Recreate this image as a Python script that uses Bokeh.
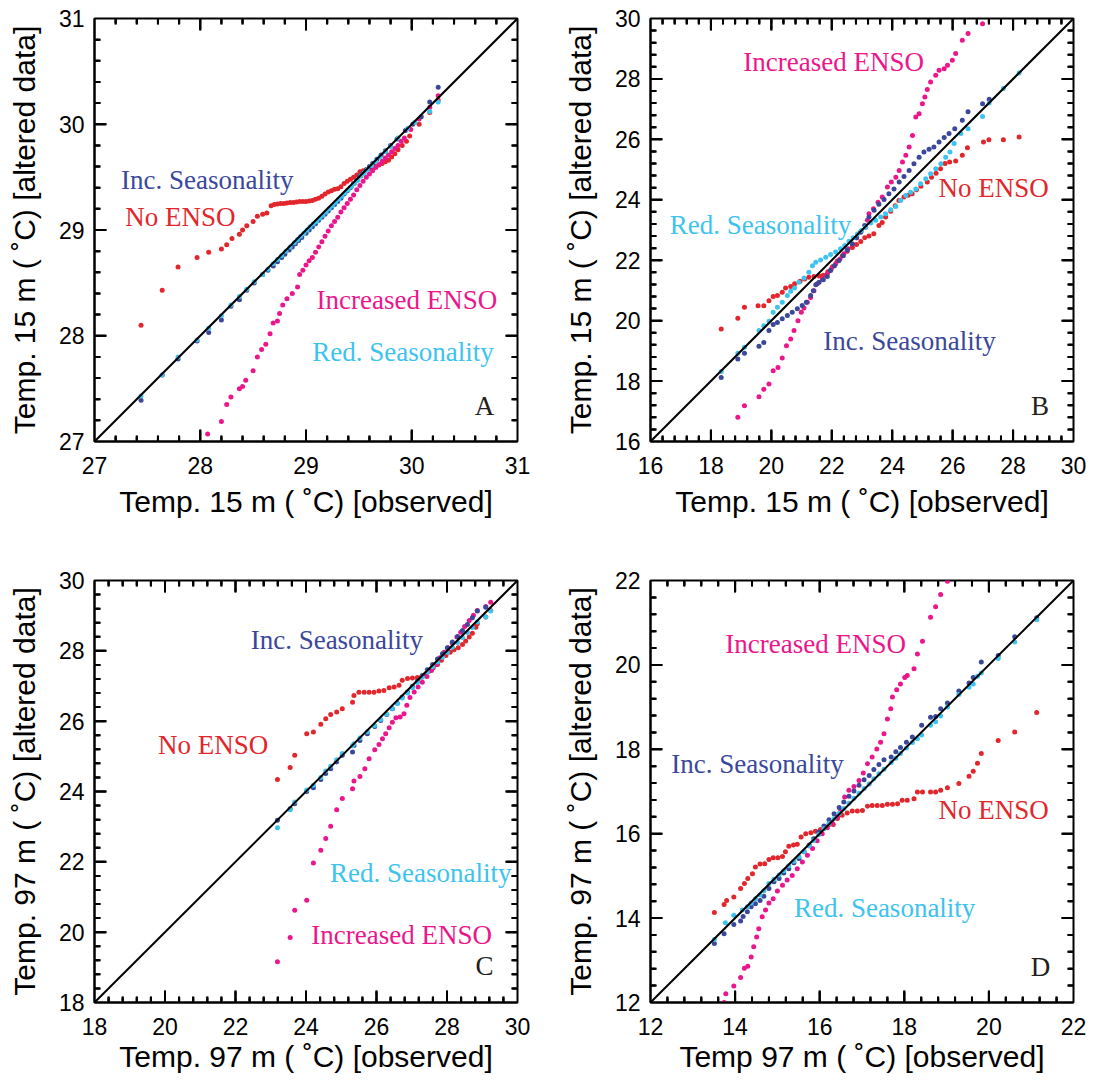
from bokeh.plotting import figure
from bokeh.models import Range1d, SingleIntervalTicker, Slope, Label
from bokeh.layouts import column, row
from bokeh.embed import file_html
from bokeh.resources import INLINE

# ---------------- data ----------------
# Panel A : 15 m, range 27-31
A_NOENSO_X = [27.44, 27.64, 27.79, 27.97, 28.08, 28.20, 28.25, 28.30, 28.37, 28.40, 28.44, 28.50, 28.54, 28.59, 28.63,
              28.67, 28.70, 28.73, 28.76, 28.79, 28.82, 28.85, 28.88, 28.91, 28.94, 28.97, 29.00, 29.03, 29.06, 29.09,
              29.12, 29.15, 29.18, 29.21, 29.24, 29.27, 29.30, 29.33, 29.36, 29.39, 29.42, 29.45, 29.48, 29.51, 29.54,
              29.57, 29.60, 29.63, 29.66, 29.69, 29.72, 29.75, 29.78, 29.81, 29.84, 29.87, 29.91, 29.95, 29.98, 30.07,
              30.17, 30.25]
A_NOENSO_Y = [28.10, 28.43, 28.65, 28.74, 28.79, 28.82, 28.86, 28.92, 28.96, 29.00, 29.04, 29.08, 29.13, 29.15, 29.16,
              29.23, 29.24, 29.245, 29.25, 29.25, 29.255, 29.26, 29.26, 29.265, 29.27, 29.27, 29.27, 29.275, 29.28, 29.29,
              29.30, 29.32, 29.34, 29.36, 29.37, 29.385, 29.39, 29.41, 29.44, 29.46, 29.48, 29.50, 29.52, 29.55, 29.56,
              29.57, 29.58, 29.59, 29.60, 29.615, 29.63, 29.645, 29.66, 29.69, 29.72, 29.76, 29.80, 29.84, 29.89, 30.00,
              30.11, 30.23]
A_INCENSO_X = [28.07, 28.20, 28.25, 28.29, 28.37, 28.40, 28.43, 28.50, 28.54, 28.58, 28.62, 28.66, 28.69, 28.73, 28.75,
               28.78, 28.82, 28.87, 28.92, 28.94, 28.97, 29.00, 29.03, 29.06, 29.09, 29.12, 29.15, 29.18, 29.21, 29.24,
               29.27, 29.30, 29.33, 29.36, 29.39, 29.42, 29.45, 29.48, 29.51, 29.54, 29.57, 29.60, 29.63, 29.66, 29.69,
               29.72, 29.75, 29.78, 29.81, 29.84, 29.87, 29.90, 29.93, 29.99, 30.07, 30.17, 30.25]
A_INCENSO_Y = [27.07, 27.19, 27.35, 27.42, 27.50, 27.52, 27.58, 27.67, 27.80, 27.87, 27.92, 28.02, 28.12, 28.14, 28.21,
               28.29, 28.35, 28.40, 28.46, 28.58, 28.62, 28.67, 28.71, 28.74, 28.79, 28.84, 28.89, 28.94, 28.99, 29.04,
               29.08, 29.12, 29.17, 29.21, 29.25, 29.29, 29.33, 29.38, 29.42, 29.46, 29.50, 29.53, 29.56, 29.59, 29.62,
               29.65, 29.68, 29.71, 29.74, 29.77, 29.80, 29.84, 29.87, 29.95, 30.05, 30.16, 30.27]
A_INCSEAS_X = [27.44, 27.64, 27.79, 27.97, 28.08, 28.20, 28.29, 28.37, 28.44, 28.51, 28.59, 28.64, 28.69, 28.73, 28.77,
               28.80, 28.84, 28.87, 28.90, 28.93, 28.96, 29.00, 29.03, 29.06, 29.09, 29.12, 29.15, 29.18, 29.21, 29.24,
               29.27, 29.30, 29.33, 29.36, 29.39, 29.42, 29.45, 29.48, 29.51, 29.54, 29.57, 29.60, 29.63, 29.67, 29.71,
               29.75, 29.80, 29.86, 29.94, 30.01, 30.09, 30.17, 30.25]
A_INCSEAS_Y = [27.39, 27.63, 27.78, 27.95, 28.03, 28.15, 28.28, 28.34, 28.43, 28.50, 28.58, 28.62, 28.66, 28.70, 28.74,
               28.77, 28.81, 28.84, 28.87, 28.90, 28.93, 28.97, 29.00, 29.03, 29.06, 29.09, 29.12, 29.15, 29.18, 29.21,
               29.24, 29.27, 29.30, 29.34, 29.37, 29.40, 29.44, 29.47, 29.51, 29.54, 29.57, 29.60, 29.63, 29.67, 29.71,
               29.75, 29.80, 29.86, 29.94, 30.00, 30.07, 30.21, 30.35]
A_REDSEAS_X = [27.44, 27.64, 27.79, 27.97, 28.08, 28.20, 28.29, 28.37, 28.44, 28.51, 28.59, 28.64, 28.69, 28.73, 28.77,
               28.81, 28.85, 28.89, 28.92, 28.95, 28.98, 29.01, 29.04, 29.07, 29.10, 29.13, 29.16, 29.19, 29.22, 29.25,
               29.28, 29.31, 29.34, 29.37, 29.40, 29.43, 29.46, 29.49, 29.52, 29.55, 29.58, 29.62, 29.66, 29.70, 29.75,
               29.80, 29.87, 29.96, 30.03, 30.17, 30.25]
A_REDSEAS_Y = [27.43, 27.63, 27.80, 27.96, 28.07, 28.19, 28.29, 28.37, 28.44, 28.51, 28.58, 28.63, 28.68, 28.72, 28.76,
               28.80, 28.84, 28.88, 28.91, 28.94, 28.97, 29.00, 29.03, 29.06, 29.08, 29.11, 29.14, 29.17, 29.20, 29.23,
               29.26, 29.29, 29.32, 29.35, 29.38, 29.41, 29.44, 29.47, 29.51, 29.54, 29.57, 29.61, 29.65, 29.69, 29.74,
               29.79, 29.87, 29.96, 30.02, 30.12, 30.21]

# Panel B : 15 m, range 16-30
B_NOENSO_X = [18.34, 18.89, 19.11, 19.56, 19.75, 19.92, 20.06, 20.20, 20.36, 20.47, 20.64, 20.77, 20.95, 21.10, 21.24,
              21.41, 21.58, 21.72, 21.87, 22.02, 22.18, 22.35, 22.51, 22.68, 22.82, 22.96, 23.09, 23.23, 23.39, 23.56,
              23.67, 23.78, 23.95, 24.10, 24.22, 24.39, 24.53, 24.66, 24.80, 24.95, 25.16, 25.30, 25.45, 25.60, 25.75,
              25.90, 26.10, 26.32, 26.49, 27.02, 27.20, 27.68, 28.20]
B_NOENSO_Y = [19.72, 20.08, 20.44, 20.49, 20.49, 20.66, 20.80, 20.83, 20.94, 21.08, 21.13, 21.22, 21.30, 21.38, 21.44,
              21.46, 21.48, 21.50, 21.62, 21.78, 21.97, 22.15, 22.30, 22.42, 22.52, 22.62, 22.74, 22.80, 22.88, 23.15,
              23.25, 23.43, 23.62, 23.80, 23.98, 24.09, 24.15, 24.20, 24.33, 24.45, 24.59, 24.75, 24.88, 25.03, 25.20,
              25.25, 25.28, 25.47, 25.72, 25.91, 25.99, 25.99, 26.08]
B_INCENSO_X = [18.89, 19.11, 19.59, 19.75, 19.92, 20.06, 20.22, 20.36, 20.50, 20.64, 20.75, 20.88, 20.99, 21.08, 21.19,
               21.30, 21.41, 21.52, 21.69, 21.85, 21.98, 22.13, 22.27, 22.40, 22.54, 22.68, 22.82, 22.96, 23.12, 23.18,
               23.23, 23.38, 23.53, 23.67, 23.84, 23.97, 24.12, 24.23, 24.34, 24.45, 24.56, 24.67, 24.78, 24.89, 25.00,
               25.08, 25.16, 25.27, 25.44, 25.55, 25.72, 25.83, 25.99, 26.10, 26.32, 26.51, 26.99]
B_INCENSO_Y = [16.80, 17.18, 17.48, 17.73, 17.90, 18.34, 18.45, 18.76, 19.17, 19.39, 19.67, 20.00, 20.28, 20.42, 20.61,
               20.77, 20.99, 21.22, 21.38, 21.55, 21.71, 21.88, 22.04, 22.21, 22.38, 22.54, 22.74, 22.93, 23.09, 23.32,
               23.54, 23.70, 23.92, 24.09, 24.42, 24.59, 24.75, 24.97, 25.25, 25.47, 25.75, 26.13, 26.74, 26.85, 27.18,
               27.40, 27.65, 27.90, 28.12, 28.29, 28.34, 28.45, 28.62, 28.84, 29.28, 29.50, 29.83]
B_INCSEAS_X = [18.34, 18.89, 19.11, 19.59, 19.75, 19.92, 20.06, 20.20, 20.36, 20.53, 20.69, 20.86, 21.02, 21.16, 21.30,
               21.39, 21.47, 21.58, 21.72, 21.85, 21.96, 22.09, 22.24, 22.38, 22.51, 22.68, 22.82, 22.96, 23.09, 23.23,
               23.40, 23.56, 23.73, 23.89, 24.06, 24.23, 24.39, 24.56, 24.72, 24.89, 25.05, 25.22, 25.38, 25.55, 25.72,
               25.88, 26.07, 26.32, 26.51, 26.99, 27.21]
B_INCSEAS_Y = [18.12, 18.73, 18.92, 19.15, 19.28, 19.67, 19.87, 19.94, 20.06, 20.17, 20.28, 20.39, 20.50, 20.61, 20.83,
               20.99, 21.19, 21.27, 21.35, 21.46, 21.66, 21.82, 21.99, 22.15, 22.34, 22.54, 22.74, 22.93, 23.15, 23.43,
               23.65, 23.85, 24.01, 24.20, 24.36, 24.59, 24.77, 24.97, 25.19, 25.41, 25.58, 25.67, 25.75, 25.91, 26.06,
               26.19, 26.35, 26.63, 26.91, 27.18, 27.33]
B_REDSEAS_X = [18.34, 18.89, 19.11, 19.59, 19.75, 19.92, 20.06, 20.20, 20.36, 20.53, 20.64, 20.77, 20.91, 21.08, 21.24,
               21.36, 21.47, 21.63, 21.80, 21.96, 22.13, 22.29, 22.43, 22.57, 22.71, 22.85, 22.98, 23.12, 23.29, 23.45,
               23.62, 23.78, 23.95, 24.12, 24.28, 24.45, 24.61, 24.78, 24.94, 25.11, 25.27, 25.44, 25.61, 25.77, 25.91,
               26.05, 26.27, 26.51, 26.99, 27.21, 27.68, 28.20]
B_REDSEAS_Y = [18.32, 18.92, 19.12, 19.67, 19.83, 19.98, 20.28, 20.44, 20.61, 20.83, 20.97, 21.08, 21.27, 21.41, 21.60,
               21.82, 21.93, 22.01, 22.10, 22.19, 22.27, 22.38, 22.49, 22.63, 22.74, 22.87, 22.98, 23.09, 23.23, 23.32,
               23.43, 23.54, 23.67, 23.78, 23.98, 24.14, 24.25, 24.36, 24.53, 24.70, 24.86, 25.03, 25.19, 25.41, 25.58,
               25.86, 26.19, 26.35, 26.76, 27.20, 27.68, 28.20]

# Panel C : 97 m, range 18-30
C_NOENSO_X = [23.19, 23.55, 23.68, 24.02, 24.21, 24.42, 24.56, 24.70, 24.87, 25.03, 25.32, 25.36, 25.50, 25.65, 25.79,
              25.93, 26.07, 26.21, 26.36, 26.50, 26.64, 26.73, 26.88, 27.02, 27.16, 27.27, 27.40, 27.49, 27.61, 27.73,
              27.84, 27.97, 28.09, 28.20, 28.32, 28.44, 28.53, 28.63, 28.72, 28.82, 28.86, 29.10, 29.24]
C_NOENSO_Y = [24.34, 24.68, 25.03, 25.64, 25.69, 25.91, 26.07, 26.19, 26.26, 26.35, 26.54, 26.73, 26.82, 26.82, 26.82,
              26.82, 26.86, 26.87, 26.95, 26.97, 27.02, 27.16, 27.21, 27.23, 27.24, 27.25, 27.35, 27.42, 27.52, 27.61,
              27.73, 27.87, 27.96, 28.03, 28.09, 28.18, 28.28, 28.39, 28.50, 28.67, 28.77, 28.96, 29.15]
C_INCENSO_X = [23.19, 23.55, 23.68, 24.02, 24.21, 24.42, 24.56, 24.70, 24.87, 25.03, 25.32, 25.36, 25.53, 25.67, 25.79,
               25.95, 26.07, 26.17, 26.26, 26.36, 26.45, 26.55, 26.67, 26.78, 26.86, 26.95, 27.07, 27.18, 27.30, 27.43,
               27.56, 27.68, 27.80, 27.92, 28.03, 28.15, 28.28, 28.39, 28.50, 28.63, 28.75, 28.86, 29.10, 29.24]
C_INCENSO_Y = [19.16, 19.85, 20.62, 20.91, 21.97, 22.33, 22.66, 23.01, 23.48, 23.80, 24.08, 24.30, 24.43, 24.65, 24.93,
               25.19, 25.34, 25.50, 25.64, 25.81, 25.97, 26.10, 26.12, 26.21, 26.45, 26.67, 26.83, 26.97, 27.11, 27.27,
               27.44, 27.61, 27.80, 27.96, 28.09, 28.22, 28.39, 28.53, 28.69, 28.86, 29.01, 29.15, 29.26, 29.38]
C_INCSEAS_X = [23.19, 23.55, 23.68, 24.02, 24.21, 24.42, 24.56, 24.70, 24.87, 25.03, 25.32, 25.36, 25.53, 25.74, 25.95,
               26.12, 26.29, 26.45, 26.59, 26.73, 26.88, 27.02, 27.16, 27.30, 27.44, 27.59, 27.73, 27.87, 28.01, 28.15,
               28.30, 28.44, 28.58, 28.72, 28.86, 29.10]
C_INCSEAS_Y = [23.18, 23.51, 23.65, 24.00, 24.11, 24.34, 24.51, 24.65, 24.84, 25.03, 25.12, 25.31, 25.45, 25.64, 25.85,
               26.02, 26.19, 26.35, 26.51, 26.69, 26.83, 26.99, 27.14, 27.30, 27.46, 27.61, 27.77, 27.92, 28.09, 28.25,
               28.41, 28.58, 28.75, 28.94, 29.13, 29.24]
C_REDSEAS_X = [23.19, 23.55, 23.68, 24.02, 24.21, 24.42, 24.56, 24.70, 24.87, 25.03, 25.32, 25.36, 25.53, 25.74, 25.95,
               26.12, 26.29, 26.45, 26.59, 26.73, 26.88, 27.02, 27.16, 27.30, 27.44, 27.59, 27.73, 27.87, 28.01, 28.15,
               28.30, 28.44, 28.58, 28.72, 28.86, 29.10, 29.24]
C_REDSEAS_Y = [22.97, 23.48, 23.70, 24.04, 24.18, 24.40, 24.58, 24.72, 24.90, 25.08, 25.30, 25.36, 25.52, 25.70, 25.88,
               26.05, 26.20, 26.36, 26.50, 26.66, 26.80, 26.95, 27.10, 27.25, 27.40, 27.55, 27.68, 27.82, 27.96, 28.10,
               28.24, 28.38, 28.52, 28.66, 28.82, 28.96, 29.13]

# Panel D : 97 m, range 12-22
D_NOENSO_X = [13.51, 13.74, 13.80, 13.97, 14.13, 14.22, 14.30, 14.41, 14.48, 14.59, 14.70, 14.80, 14.90, 15.01, 15.12,
              15.19, 15.27, 15.38, 15.47, 15.56, 15.67, 15.79, 15.90, 16.02, 16.12, 16.22, 16.32, 16.42, 16.53, 16.65,
              16.77, 16.89, 17.01, 17.13, 17.24, 17.36, 17.48, 17.60, 17.72, 17.84, 17.95, 18.07, 18.23, 18.31, 18.43,
              18.62, 18.74, 18.86, 19.02, 19.29, 19.53, 19.63, 19.73, 19.82, 20.22, 20.61, 21.13]
D_NOENSO_Y = [14.13, 14.32, 14.42, 14.50, 14.70, 14.82, 14.94, 15.05, 15.21, 15.28, 15.29, 15.39, 15.43, 15.43, 15.46,
              15.57, 15.70, 15.73, 15.75, 15.92, 16.00, 16.02, 16.06, 16.10, 16.16, 16.22, 16.22, 16.36, 16.44, 16.49,
              16.54, 16.54, 16.55, 16.65, 16.67, 16.67, 16.67, 16.70, 16.70, 16.71, 16.79, 16.79, 16.83, 16.99, 16.99,
              16.99, 16.99, 17.03, 17.09, 17.19, 17.36, 17.48, 17.67, 17.90, 18.21, 18.41, 18.87]
D_INCENSO_X = [13.74, 13.78, 13.97, 14.13, 14.22, 14.30, 14.38, 14.44, 14.51, 14.56, 14.64, 14.72, 14.80, 14.90, 15.00,
               15.12, 15.23, 15.35, 15.47, 15.59, 15.71, 15.83, 15.94, 16.06, 16.18, 16.30, 16.42, 16.50, 16.59, 16.69,
               16.81, 16.93, 17.03, 17.13, 17.24, 17.35, 17.44, 17.52, 17.60, 17.68, 17.72, 17.82, 17.91, 18.01, 18.07,
               18.23, 18.31, 18.43, 18.62, 18.74, 18.86, 19.02]
D_INCENSO_Y = [12.00, 12.21, 12.39, 12.59, 12.81, 12.86, 13.08, 13.32, 13.55, 13.75, 14.03, 14.19, 14.36, 14.46, 14.64,
               14.78, 14.90, 15.01, 15.17, 15.33, 15.49, 15.65, 15.83, 16.00, 16.14, 16.25, 16.40, 16.55, 16.87, 17.03,
               17.12, 17.26, 17.44, 17.66, 17.82, 18.01, 18.17, 18.37, 18.72, 18.96, 19.24, 19.41, 19.55, 19.70, 19.75,
               19.91, 20.26, 20.56, 21.13, 21.38, 21.67, 21.98]
D_INCSEAS_X = [13.51, 13.74, 13.97, 14.13, 14.19, 14.29, 14.38, 14.48, 14.59, 14.68, 14.80, 14.92, 15.04, 15.15, 15.27,
               15.39, 15.51, 15.63, 15.75, 15.86, 15.98, 16.10, 16.22, 16.34, 16.46, 16.57, 16.69, 16.81, 16.93, 17.05,
               17.17, 17.28, 17.40, 17.52, 17.69, 17.80, 17.91, 18.05, 18.19, 18.41, 18.62, 18.74, 18.86, 19.02, 19.29,
               19.53, 19.63, 19.82, 20.22, 20.61, 21.13]
D_INCSEAS_Y = [13.40, 13.63, 13.85, 13.93, 14.04, 14.15, 14.27, 14.34, 14.42, 14.52, 14.70, 14.86, 14.94, 15.07, 15.17,
               15.31, 15.41, 15.57, 15.73, 15.88, 16.04, 16.18, 16.33, 16.47, 16.62, 16.75, 16.89, 17.01, 17.15, 17.28,
               17.38, 17.52, 17.64, 17.75, 17.82, 17.94, 18.04, 18.17, 18.29, 18.57, 18.76, 18.78, 18.96, 19.10, 19.38,
               19.57, 19.70, 20.07, 20.22, 20.67, 21.12]
D_REDSEAS_X = [13.51, 13.77, 13.97, 14.17, 14.29, 14.38, 14.48, 14.59, 14.68, 14.80, 14.92, 15.04, 15.15, 15.27, 15.39,
               15.51, 15.63, 15.75, 15.86, 15.98, 16.10, 16.22, 16.34, 16.46, 16.57, 16.69, 16.81, 16.93, 17.05, 17.17,
               17.28, 17.40, 17.52, 17.69, 17.80, 17.91, 18.05, 18.19, 18.31, 18.41, 18.62, 18.74, 18.86, 19.02, 19.29,
               19.53, 19.63, 19.73, 19.82, 20.22, 20.61, 21.13]
D_REDSEAS_Y = [13.49, 13.89, 14.07, 14.19, 14.27, 14.36, 14.46, 14.55, 14.65, 14.82, 14.92, 15.02, 15.12, 15.24, 15.35,
               15.46, 15.58, 15.71, 15.84, 15.98, 16.12, 16.24, 16.36, 16.48, 16.60, 16.72, 16.84, 16.96, 17.07, 17.18,
               17.30, 17.42, 17.53, 17.69, 17.79, 17.90, 18.03, 18.16, 18.25, 18.34, 18.57, 18.65, 18.79, 19.00, 19.30,
               19.47, 19.55, 19.73, 19.81, 20.15, 20.54, 21.07]

# axis ranges and tick steps
A_RANGE, A_STEP = (27, 31), 1
B_RANGE, B_STEP = (16, 30), 2
C_RANGE, C_STEP = (18, 30), 2
D_RANGE, D_STEP = (12, 22), 2

XLAB_15 = "Temp. 15 m ( \u02daC) [observed]"
YLAB_15 = "Temp. 15 m ( \u02daC) [altered data]"
XLAB_C = "Temp. 97 m ( \u02daC) [observed]"
XLAB_D = "Temp 97 m ( \u02daC) [observed]"
YLAB_97 = "Temp. 97 m ( \u02daC) [altered data]"

# ---------------- styling ----------------
RED = "#e2262b"
PINK = "#ec168c"
BLUE = "#3a479b"
CYAN = "#3cc3ef"
SANS = "Liberation Sans"
SERIF = "Liberation Serif"
FRAME_PX = 423.0  # frame size in pixels (square panels)


def add_inner_ticks(p, lo, hi, step):
    # tick marks on all four frame edges pointing into the frame
    lo = float(lo)
    hi = float(hi)
    sub = step / 5.0
    n_minor = int(round((hi - lo) / sub))
    unit = (hi - lo) / FRAME_PX  # data units per pixel
    seg = dict(x0=[], y0=[], x1=[], y1=[])
    sq_x, sq_y = [], []
    for i in range(1, n_minor):
        v = round(lo + i * sub, 6)
        is_major = (i % 5 == 0)
        length_px = 12.0 if is_major else 6.0
        a = 0.5 * unit
        L = length_px * unit
        seg["x0"] += [v, v, lo + a, hi - a]
        seg["y0"] += [lo + a, hi - a, v, v]
        seg["x1"] += [v, v, lo + L, hi - L]
        seg["y1"] += [lo + L, hi - L, v, v]
        d = 1.2
        while d <= length_px - 0.8:
            off = d * unit
            sq_x += [v, v, lo + off, hi - off]
            sq_y += [lo + off, hi - off, v, v]
            d += 1.2
    p.segment(x0=seg["x0"], y0=seg["y0"], x1=seg["x1"], y1=seg["y1"],
              line_color="black", line_width=2)
    p.scatter(sq_x, sq_y, marker="square", size=2, fill_color="black", line_color=None)


def make_panel(rng, step, xlab, ylab, series, notes, letter, w, h, bl, br, bt, bb, xlab_standoff):
    lo, hi = rng
    p = figure(width=w, height=h, x_range=Range1d(lo, hi), y_range=Range1d(lo, hi),
               output_backend="svg", toolbar_location=None,
               min_border_left=bl, min_border_right=br, min_border_top=bt, min_border_bottom=bb,
               background_fill_color="white", border_fill_color="white")
    p.grid.visible = False
    p.outline_line_color = "black"
    p.outline_line_width = 2

    xa = p.xaxis[0]
    ya = p.yaxis[0]
    for ax in (xa, ya):
        ax.ticker = SingleIntervalTicker(interval=step, num_minor_ticks=5)
        ax.major_tick_in = 0
        ax.major_tick_out = 0
        ax.minor_tick_in = 0
        ax.minor_tick_out = 0
        ax.axis_line_width = 2
        ax.axis_line_color = "black"
        ax.major_label_text_font = SANS
        ax.major_label_text_font_size = "23px"
        ax.major_label_text_color = "black"
        ax.axis_label_text_font = SANS
        ax.axis_label_text_font_size = "30px"
        ax.axis_label_text_font_style = "normal"
        ax.axis_label_text_color = "black"
    xa.axis_label = xlab
    ya.axis_label = ylab
    xa.major_label_standoff = 15
    xa.axis_label_standoff = xlab_standoff
    ya.major_label_standoff = 10
    ya.axis_label_standoff = 15

    add_inner_ticks(p, lo, hi, step)

    for xs, ys, color in series:
        n = min(len(xs), len(ys))
        p.scatter(list(xs[:n]), list(ys[:n]), size=5, fill_color=color, line_color=None)

    p.add_layout(Slope(gradient=1, y_intercept=0, line_color="black", line_width=2))

    for text, x, y, color in notes:
        p.add_layout(Label(x=x, y=y, text=text, text_color=color, text_font=SERIF,
                           text_font_size="27px", text_baseline="middle", text_align="left"))
    ltxt, lx, ly = letter
    p.add_layout(Label(x=lx, y=ly, text=ltxt, text_color="#231f20", text_font=SERIF,
                       text_font_size="27px", text_baseline="middle", text_align="right"))
    return p


pA = make_panel(A_RANGE, A_STEP, XLAB_15, YLAB_15,
                [(A_NOENSO_X, A_NOENSO_Y, RED), (A_INCENSO_X, A_INCENSO_Y, PINK),
                 (A_INCSEAS_X, A_INCSEAS_Y, BLUE), (A_REDSEAS_X, A_REDSEAS_Y, CYAN)],
                [("Inc. Seasonality", 27.25, 29.47, BLUE), ("No ENSO", 27.29, 29.12, RED),
                 ("Increased ENSO", 29.10, 28.34, PINK), ("Red. Seasonality", 29.06, 27.85, CYAN)],
                ("A", 30.78, 27.34), 546, 540, 94, 29, 18, 99, 8)

pB = make_panel(B_RANGE, B_STEP, XLAB_15, YLAB_15,
                [(B_NOENSO_X, B_NOENSO_Y, RED), (B_INCENSO_X, B_INCENSO_Y, PINK),
                 (B_INCSEAS_X, B_INCSEAS_Y, BLUE), (B_REDSEAS_X, B_REDSEAS_Y, CYAN)],
                [("Increased ENSO", 19.07, 28.56, PINK), ("No ENSO", 25.53, 24.40, RED),
                 ("Red. Seasonality", 16.64, 23.15, CYAN), ("Inc. Seasonality", 21.72, 19.34, BLUE)],
                ("B", 29.19, 17.18), 546, 540, 104, 19, 18, 99, 8)

pC = make_panel(C_RANGE, C_STEP, XLAB_C, YLAB_97,
                [(C_NOENSO_X, C_NOENSO_Y, RED), (C_INCENSO_X, C_INCENSO_Y, PINK),
                 (C_INCSEAS_X, C_INCSEAS_Y, BLUE), (C_REDSEAS_X, C_REDSEAS_Y, CYAN)],
                [("Inc. Seasonality", 22.43, 28.30, BLUE), ("No ENSO", 19.80, 25.31, RED),
                 ("Red. Seasonality", 24.68, 21.67, CYAN), ("Increased ENSO", 24.15, 19.91, PINK)],
                ("C", 29.32, 19.03), 546, 538, 94, 29, 40, 76, 2)

pD = make_panel(D_RANGE, D_STEP, XLAB_D, YLAB_97,
                [(D_NOENSO_X, D_NOENSO_Y, RED), (D_INCENSO_X, D_INCENSO_Y, PINK),
                 (D_INCSEAS_X, D_INCSEAS_Y, BLUE), (D_REDSEAS_X, D_REDSEAS_Y, CYAN)],
                [("Increased ENSO", 13.77, 20.50, PINK), ("Inc. Seasonality", 12.49, 17.64, BLUE),
                 ("No ENSO", 18.81, 16.55, RED), ("Red. Seasonality", 15.39, 14.23, CYAN)],
                ("D", 21.45, 12.84), 546, 538, 104, 19, 40, 76, 2)

layout = column(row(pA, pB), row(pC, pD))
open("out.html", "w").write(file_html(layout, INLINE))
